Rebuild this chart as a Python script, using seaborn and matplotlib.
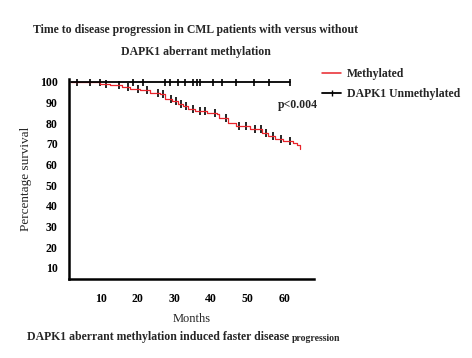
import matplotlib
matplotlib.use("Agg")
import matplotlib.pyplot as plt
import seaborn as sns
import pandas as pd
import numpy as np
from matplotlib.lines import Line2D

# ---- data ----
meth_time = [2, 9.7, 12.4, 15.7, 17.9, 20.6, 23.3, 26.0, 27.4, 29.5, 30.9, 32.3, 33.6, 35.5,
             38.8, 41.5, 42.3, 44.5, 46.9, 50.5, 54.0, 55.4, 57.3, 59.5, 62.2, 63.3, 64.1]
meth_surv = [100, 99.0, 98.5, 97.6, 96.6, 96.1, 94.7, 94.2, 91.8, 90.8, 89.4, 88.4, 86.9, 86.0,
             85.0, 84.5, 82.6, 80.2, 78.7, 77.3, 75.3, 73.9, 72.4, 71.5, 70.5, 69.5, 67.6]
meth_cens_time = [11.5, 15, 17.3, 20, 22.5, 25.5, 27, 29, 30.5, 31.8, 33.2, 35, 37, 38.3,
                  41, 44, 47.5, 49.5, 52, 53.5, 55, 57, 59, 61.5]
unmeth_time = [2, 61.6]
unmeth_surv = [100, 100]
unmeth_cens_time = [3.5, 7.0, 9.7, 18.7, 21.4, 27.4, 28.8, 30.9, 33.0, 35.1, 36.3, 37.1,
                    40.4, 43.1, 46.9, 51.8, 55.9, 61.6]
x_ticks = [10, 20, 30, 40, 50, 60]
y_ticks = [10, 20, 30, 40, 50, 60, 70, 80, 90, 100]

sns.set_style("white")
plt.rcParams['font.family'] = ['Liberation Serif', 'DejaVu Serif']

fig = plt.figure(figsize=(4.72, 3.58), dpi=100)
ax = fig.add_axes([0.146, 0.221, 0.519, 0.558])

meth_df = pd.DataFrame({"t": meth_time, "s": meth_surv})
unmeth_df = pd.DataFrame({"t": unmeth_time, "s": unmeth_surv})

sns.lineplot(data=meth_df, x="t", y="s", ax=ax, color="#e8242b", lw=0.9,
             drawstyle="steps-post", estimator=None, legend=False)
sns.lineplot(data=unmeth_df, x="t", y="s", ax=ax, color="black", lw=1.3,
             drawstyle="steps-post", estimator=None, legend=False)

# censor marks
mt = np.array(meth_time); ms = np.array(meth_surv)
cens_s = [ms[np.searchsorted(mt, c, side="right") - 1] for c in meth_cens_time]
cens_df = pd.DataFrame({"t": meth_cens_time, "s": cens_s})
sns.scatterplot(data=cens_df, x="t", y="s", ax=ax, marker="|", color="black",
                s=30, linewidth=1.2, legend=False)
ucens_df = pd.DataFrame({"t": unmeth_cens_time, "s": [100] * len(unmeth_cens_time)})
sns.scatterplot(data=ucens_df, x="t", y="s", ax=ax, marker="|", color="black",
                s=30, linewidth=1.2, legend=False)

ax.set_xlim(1.3, 68)
ax.set_ylim(4.6, 101.3)
ax.set_xticks(x_ticks)
ax.set_yticks(y_ticks)
ax.set_xticklabels([str(v) for v in x_ticks], fontsize=8.5, fontweight="bold")
ax.set_yticklabels([str(v) for v in y_ticks], fontsize=8.5, fontweight="bold")
ax.tick_params(axis="x", length=4, width=1.5, direction="out", pad=6, colors="black")
ax.tick_params(axis="y", length=0, pad=8, colors="black")
for sp in ["top", "right"]:
    ax.spines[sp].set_visible(False)
for sp in ["left", "bottom"]:
    ax.spines[sp].set_linewidth(1.8)
    ax.spines[sp].set_color("black")
ax.set_xlabel("Months", fontsize=9, labelpad=6)
ax.set_ylabel("Percentage survival", fontsize=9.5, labelpad=6)

ax.text(69, 89, "p<0.004", fontsize=8.5, fontweight="bold", ha="right", va="center")

handles = [Line2D([0], [0], color="#e8242b", lw=1.1),
           Line2D([0], [0], color="black", lw=1.3, marker="|", markersize=5, markevery=[1])]
fig.legend(handles, ["Methylated", "DAPK1 Unmethylated"], loc="upper left",
           bbox_to_anchor=(0.66, 0.84), frameon=False, handlelength=1.6,
           handletextpad=0.5, labelspacing=0.7,
           prop={"family": "Liberation Serif", "weight": "bold", "size": 8.5})

fig.text(0.415, 0.915, "Time to disease progression in CML patients with versus without",
         ha="center", va="center", fontsize=8.5, fontweight="bold")
fig.text(0.415, 0.855, "DAPK1 aberrant methylation",
         ha="center", va="center", fontsize=8.5, fontweight="bold")
fig.text(0.057, 0.058, "DAPK1 aberrant methylation induced faster disease",
         ha="left", va="center", fontsize=8.5, fontweight="bold")
fig.text(0.619, 0.055, "progression", ha="left", va="center", fontsize=7, fontweight="bold")

fig.savefig("out.png", dpi=100)
